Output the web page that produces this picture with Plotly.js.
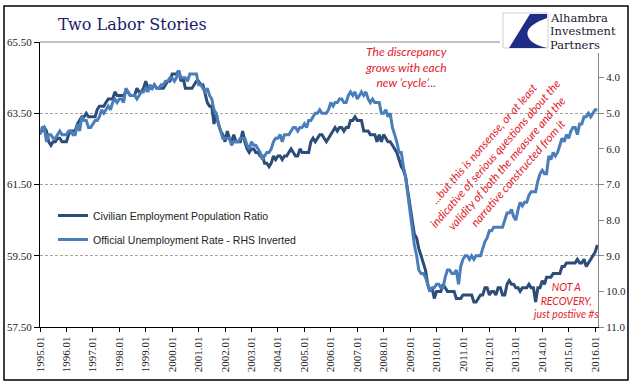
<!DOCTYPE html>
<html><head><meta charset="utf-8">
<script src="https://cdn.plot.ly/plotly-3.0.1.min.js"></script>
<style>html,body{margin:0;padding:0;background:#fff}#chart{width:641px;height:392px}</style>
</head><body><div id="chart"></div>
<script>
// ---- DATA (monthly, Jan 1995 - Feb 2016) ----
const startYear = 1995;
const employmentRatio = [
  63.0,63.0,63.1,63.0,62.7,62.6,62.7,62.7,62.8,62.8,62.7,62.7, // 1995
  62.7,62.9,63.0,63.0,63.0,63.2,63.3,63.4,63.4,63.5,63.4,63.4, // 1996
  63.4,63.4,63.6,63.7,63.7,63.7,63.8,63.9,63.9,63.9,64.1,64.0, // 1997
  64.0,64.0,64.0,64.1,64.1,64.0,64.0,64.0,64.2,64.1,64.1,64.2, // 1998
  64.4,64.2,64.2,64.2,64.3,64.2,64.2,64.2,64.2,64.3,64.4,64.4, // 1999
  64.6,64.6,64.6,64.7,64.4,64.5,64.2,64.2,64.2,64.2,64.3,64.4, // 2000
  64.4,64.3,64.3,64.0,63.8,63.7,63.7,63.2,63.5,63.2,63.0,62.9, // 2001
  62.7,63.0,62.8,62.7,62.9,62.7,62.7,62.7,63.0,62.7,62.5,62.4, // 2002
  62.5,62.5,62.4,62.4,62.3,62.3,62.1,62.1,62.0,62.1,62.3,62.2, // 2003
  62.3,62.3,62.2,62.3,62.3,62.4,62.5,62.4,62.3,62.3,62.5,62.4, // 2004
  62.4,62.4,62.4,62.7,62.8,62.7,62.8,62.9,62.9,62.8,62.7,62.8, // 2005
  62.9,63.0,63.1,63.0,63.1,63.1,63.0,63.1,63.1,63.3,63.3,63.4, // 2006
  63.3,63.3,63.3,63.0,63.0,63.0,62.9,62.9,62.9,62.7,62.9,62.7, // 2007
  62.9,62.8,62.7,62.7,62.6,62.5,62.4,62.2,62.0,61.9,61.7,61.3, // 2008
  60.9,60.5,60.1,60.0,59.7,59.5,59.3,59.1,58.7,58.5,58.6,58.3, // 2009
  58.5,58.5,58.5,58.7,58.6,58.5,58.5,58.5,58.5,58.3,58.3,58.3, // 2010
  58.4,58.4,58.4,58.4,58.4,58.2,58.2,58.3,58.4,58.4,58.6,58.6, // 2011
  58.4,58.5,58.5,58.4,58.6,58.6,58.4,58.4,58.7,58.8,58.7,58.7, // 2012
  58.6,58.6,58.5,58.6,58.6,58.6,58.7,58.6,58.6,58.2,58.6,58.6, // 2013
  58.8,58.7,58.9,58.9,58.9,59.0,59.0,59.0,59.0,59.2,59.2,59.3, // 2014
  59.3,59.3,59.3,59.3,59.4,59.3,59.3,59.4,59.2,59.3,59.4,59.5, // 2015
  59.6,59.8                                                    // 2016
];
const unemploymentRate = [
  5.6,5.4,5.4,5.8,5.6,5.6,5.7,5.7,5.6,5.5,5.6,5.6, // 1995
  5.6,5.5,5.5,5.6,5.6,5.3,5.5,5.1,5.2,5.2,5.4,5.4, // 1996
  5.3,5.2,5.2,5.1,4.9,5.0,4.9,4.8,4.9,4.7,4.6,4.7, // 1997
  4.6,4.6,4.7,4.3,4.4,4.5,4.5,4.5,4.6,4.5,4.4,4.4, // 1998
  4.3,4.4,4.2,4.3,4.2,4.3,4.3,4.2,4.2,4.1,4.1,4.0, // 1999
  4.0,4.1,4.0,3.8,4.0,4.0,4.0,4.1,3.9,3.9,3.9,3.9, // 2000
  4.2,4.2,4.3,4.4,4.3,4.5,4.6,4.9,5.0,5.3,5.5,5.7, // 2001
  5.7,5.7,5.7,5.9,5.8,5.8,5.8,5.7,5.7,5.7,5.9,6.0, // 2002
  5.8,5.9,5.9,6.0,6.1,6.3,6.2,6.1,6.1,6.0,5.8,5.7, // 2003
  5.7,5.6,5.8,5.6,5.6,5.6,5.5,5.4,5.4,5.5,5.4,5.4, // 2004
  5.3,5.4,5.2,5.2,5.1,5.0,5.0,4.9,5.0,5.0,5.0,4.9, // 2005
  4.7,4.8,4.7,4.7,4.6,4.6,4.7,4.7,4.5,4.4,4.5,4.4, // 2006
  4.6,4.5,4.4,4.5,4.4,4.6,4.7,4.6,4.7,4.7,4.7,5.0, // 2007
  5.0,4.9,5.1,5.0,5.4,5.6,5.8,6.1,6.1,6.5,6.8,7.3, // 2008
  7.8,8.3,8.7,9.0,9.4,9.5,9.5,9.6,9.8,10.0,9.9,9.9, // 2009
  9.8,9.8,9.9,9.9,9.6,9.4,9.4,9.5,9.5,9.4,9.8,9.3, // 2010
  9.1,9.0,9.0,9.1,9.0,9.1,9.0,9.0,9.0,8.8,8.6,8.5, // 2011
  8.3,8.3,8.2,8.2,8.2,8.2,8.2,8.0,7.8,7.8,7.7,7.9, // 2012
  8.0,7.7,7.5,7.6,7.5,7.5,7.3,7.2,7.2,7.2,6.9,6.7, // 2013
  6.6,6.7,6.7,6.2,6.3,6.1,6.2,6.1,5.9,5.7,5.8,5.6, // 2014
  5.7,5.5,5.4,5.4,5.6,5.3,5.3,5.1,5.1,5.0,5.1,5.0, // 2015
  4.9,4.9                                          // 2016
];
const seriesNames = ['Civilian Employment Population Ratio', 'Official Unemployment Rate - RHS Inverted'];
const xTickYears = [1995,1996,1997,1998,1999,2000,2001,2002,2003,2004,2005,2006,2007,2008,2009,2010,2011,2012,2013,2014,2015,2016];
const xTickLabels = xTickYears.map(y => y + '.01');
const leftTickVals = [57.5, 59.5, 61.5, 63.5, 65.5];
const leftTickLabels = ['57.50', '59.50', '61.50', '63.50', '65.50'];
const rightTickVals = [4, 5, 6, 7, 8, 9, 10, 11];
const rightTickLabels = ['4.0', '5.0', '6.0', '7.0', '8.0', '9.0', '10.0', '11.0'];

// ---- derived ----
const months = employmentRatio.map((_, i) => {
  const y = startYear + Math.floor(i / 12), m = (i % 12) + 1;
  return y + '-' + String(m).padStart(2, '0') + '-01';
});
const xTickVals = xTickYears.map(y => y + '-01-01');

// ---- geometry helpers (pixel -> paper) ----
const W = 641, H = 392, L = 40, R = 598, T = 42, B = 327;
const px = p => (p - L) / (R - L);
const py = p => (B - p) / (B - T);

const darkBlue = '#2d4c78';
const lightBlue = '#4a7ebb';
const red = '#e3202a';
const serif = 'Liberation Serif, Times New Roman, serif';
const logoFont = {family: 'DejaVu Serif, Georgia, serif', size: 11.5, color: '#1a1a30'};

const traces = [
  {x: months, y: employmentRatio, name: seriesNames[0], type: 'scatter', mode: 'lines',
   line: {color: darkBlue, width: 3}, yaxis: 'y', legendgroup: 'a'},
  {x: months, y: unemploymentRate, name: seriesNames[1], type: 'scatter', mode: 'lines',
   line: {color: lightBlue, width: 3}, yaxis: 'y2', legendgroup: 'b'}
];

const blueSail = 'M ' + px(509) + ',' + py(48) + ' L ' + px(530) + ',' + py(14) + ' L ' + px(547) + ',' + py(14) +
  ' L ' + px(547) + ',' + py(18) + ' Q ' + px(519) + ',' + py(28) + ' ' + px(531) + ',' + py(41) +
  ' Q ' + px(537) + ',' + py(46) + ' ' + px(547) + ',' + py(48) + ' Z';

const layout = {
  width: W, height: H,
  margin: {l: L, r: W - R, t: T, b: H - B, pad: 0},
  paper_bgcolor: '#fff', plot_bgcolor: '#fff',
  showlegend: true,
  title: {text: 'Two Labor Stories', font: {family: 'DejaVu Serif, Georgia, serif', size: 16, color: '#1b1b6b'},
          x: 58 / W, xanchor: 'left', xref: 'container', y: 1 - 24 / H, yanchor: 'middle', yref: 'container'},
  xaxis: {type: 'date', range: ['1995-01-01', '2016-02-10'], tickvals: xTickVals, ticktext: xTickLabels,
          tickangle: -90, ticks: 'outside', ticklen: 4, tickcolor: '#000', showline: true, linecolor: '#000',
          linewidth: 1, showgrid: false, zeroline: false, tickfont: {family: serif, size: 11, color: '#222'}},
  yaxis: {range: [57.5, 65.5], tickvals: leftTickVals, ticktext: leftTickLabels, ticks: 'outside', ticklen: 5,
          tickcolor: '#000', showline: true, linecolor: '#000', linewidth: 1, showgrid: true,
          gridcolor: '#a6a6a6', griddash: '3px,2px', gridwidth: 1, zeroline: false,
          tickfont: {family: serif, size: 11, color: '#222'}},
  yaxis2: {range: [11, 3], overlaying: 'y', side: 'right', tickvals: rightTickVals, ticktext: rightTickLabels,
           ticks: 'outside', ticklen: 5, tickcolor: '#888', showline: true, linecolor: '#888', linewidth: 1,
           showgrid: false, zeroline: false, tickfont: {family: serif, size: 11, color: '#222'}},
  legend: {x: px(53), y: py(201), xanchor: 'left', yanchor: 'top', bgcolor: 'rgba(0,0,0,0)',
           font: {family: 'Liberation Sans, Arial, sans-serif', size: 10.5, color: '#222'},
           traceorder: 'grouped', tracegroupgap: 5},
  shapes: [
    {type: 'line', xref: 'paper', yref: 'paper', x0: 0, x1: 1, y0: 1, y1: 1, line: {color: '#888', width: 1}},
    {type: 'rect', xref: 'paper', yref: 'paper', x0: px(500), x1: px(626), y0: py(53), y1: py(8),
     fillcolor: '#fff', line: {width: 0}, layer: 'above'},
    {type: 'rect', xref: 'paper', yref: 'paper', x0: px(503), x1: px(548), y0: py(48), y1: py(13),
     fillcolor: '#fff', line: {color: '#cfcfcf', width: 1}, layer: 'above'},
    {type: 'path', xref: 'paper', yref: 'paper', path: blueSail, fillcolor: '#1d2d86', line: {width: 0}, layer: 'above'},
    {type: 'rect', xref: 'paper', yref: 'paper', x0: px(4), x1: px(628), y0: py(380), y1: py(6),
     line: {color: '#000', width: 1.5}, layer: 'above'}
  ],
  annotations: [
    {text: 'Alhambra', xref: 'paper', yref: 'paper', x: px(549), y: py(18), xanchor: 'left', yanchor: 'middle',
     showarrow: false, borderpad: 0, font: logoFont},
    {text: 'Investment', xref: 'paper', yref: 'paper', x: px(549), y: py(31), xanchor: 'left', yanchor: 'middle',
     showarrow: false, borderpad: 0, font: logoFont},
    {text: 'Partners', xref: 'paper', yref: 'paper', x: px(549), y: py(44.5), xanchor: 'left', yanchor: 'middle',
     showarrow: false, borderpad: 0, font: logoFont},
    {text: 'The discrepancy<br>grows with each<br>new \u2018cycle\u2019...', xref: 'paper', yref: 'paper',
     x: px(406), y: py(67), xanchor: 'center', yanchor: 'middle', align: 'center', showarrow: false,
     font: {family: 'Lato, Open Sans, sans-serif', size: 12, color: red, style: 'italic'}},
    {text: '...but this is nonsense, or at least<br>indicative of serious questions about the<br>validity of both the measure and the<br>narrative constructed from it',
     xref: 'paper', yref: 'paper', x: px(501), y: py(158), xanchor: 'center', yanchor: 'middle', align: 'center',
     textangle: -49, showarrow: false,
     font: {family: 'Lato, Open Sans, sans-serif', size: 11.5, color: red, style: 'italic'}},
    {text: 'NOT A<br>RECOVERY,<br>just postiive #s', xref: 'paper', yref: 'paper',
     x: px(566), y: py(300), xanchor: 'center', yanchor: 'middle', align: 'center', showarrow: false,
     font: {family: 'Lato, Open Sans, sans-serif', size: 10.5, color: red, style: 'italic'}}
  ]
};

Plotly.newPlot('chart', traces, layout, {displayModeBar: false, staticPlot: true});
</script>
</body></html>
